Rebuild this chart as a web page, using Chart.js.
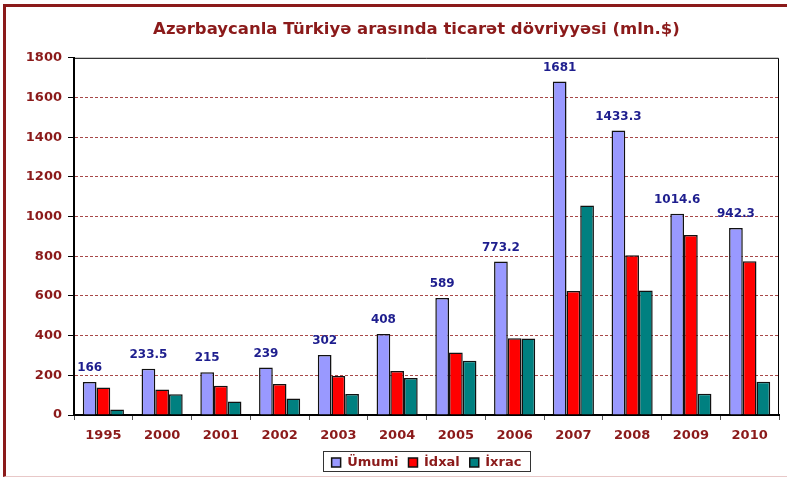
<!DOCTYPE html>
<html>
<head>
<meta charset="utf-8">
<script src="https://cdn.jsdelivr.net/npm/chart.js@4/dist/chart.umd.min.js"></script>
<style>
  html, body { margin: 0; padding: 0; background: #fff; }
  #wrap { position: relative; width: 787px; height: 480px; overflow: hidden; }
  #frame { position: absolute; left: 3px; top: 4px; width: 790px; height: 473px;
           border-left: 3px solid #8B1A1A; border-top: 3px solid #8B1A1A;
           border-bottom: 1px solid #E8C8C8; box-sizing: border-box; }
  canvas { position: absolute; left: 0; top: 0; }
</style>
</head>
<body>
<div id="wrap">
  <div id="frame"></div>
  <canvas id="c" width="787" height="480"></canvas>
</div>
<script>
const years = ['1995','2000','2001','2002','2003','2004','2005','2006','2007','2008','2009','2010'];
const umumi = [166, 233.5, 215, 239, 302, 408, 589, 773.2, 1681, 1433.3, 1014.6, 942.3];
const idxal = [138, 128, 147, 156, 196, 222, 315, 387, 625, 805, 907, 775];
const ixrac = [28, 105, 68, 83, 106, 186, 274, 386, 1056, 628, 107, 167];
const seriesNames = ['Ümumi', 'İdxal', 'İxrac'];
const yTicks = [0, 200, 400, 600, 800, 1000, 1200, 1400, 1600, 1800];

const DARKRED = '#8B1A1A';
const FONT = '"DejaVu Sans", Arial, sans-serif';
const LEGEND_SHIFT = 32;
const TITLE_SHIFT = 22;

const framePlugin = {
  id: 'framePlugin',
  afterLayout(chart) {
    const l = chart.legend;
    l.left += LEGEND_SHIFT;
    l.right += LEGEND_SHIFT;
    (l.legendHitBoxes || []).forEach(h => { h.left += LEGEND_SHIFT; h.top -= 1; });
    l.top -= 1; l.bottom -= 1;
    const t = chart.titleBlock;
    if (t) { t.left += TITLE_SHIFT; t.right += TITLE_SHIFT; }
  },
  afterDraw(chart) {
    const ctx = chart.ctx, a = chart.chartArea;
    ctx.save();
    ctx.strokeStyle = '#000';
    ctx.lineWidth = 1;
    ctx.beginPath();
    ctx.moveTo(a.left, a.top + 0.5);
    ctx.lineTo(a.right - 0.5, a.top + 0.5);
    ctx.lineTo(a.right - 0.5, a.bottom);
    ctx.stroke();
    // legend box around the items
    const hb = chart.legend.legendHitBoxes || [];
    if (hb.length) {
      const x0 = Math.min(...hb.map(h => h.left)) - 9;
      const x1 = Math.max(...hb.map(h => h.left + h.width)) + 8;
      const y0 = Math.min(...hb.map(h => h.top)) - 4;
      const y1 = Math.max(...hb.map(h => h.top + h.height)) + 3;
      ctx.strokeStyle = '#333';
      ctx.strokeRect(Math.round(x0) + 0.5, Math.round(y0) + 0.5, Math.round(x1 - x0), Math.round(y1 - y0));
    }
    ctx.restore();
  },
  afterDatasetsDraw(chart) {
    const ctx = chart.ctx;
    const meta = chart.getDatasetMeta(0);
    ctx.save();
    ctx.font = 'bold 12px ' + FONT;
    ctx.fillStyle = '#1E1E8E';
    ctx.textAlign = 'center';
    ctx.textBaseline = 'bottom';
    meta.data.forEach((bar, i) => {
      ctx.fillText(String(umumi[i]), bar.x, bar.y - 8);
    });
    ctx.restore();
  }
};

new Chart(document.getElementById('c'), {
  type: 'bar',
  data: {
    labels: years,
    datasets: [
      { label: seriesNames[0], data: umumi, backgroundColor: '#9999FF' },
      { label: seriesNames[1], data: idxal, backgroundColor: '#FF0000' },
      { label: seriesNames[2], data: ixrac, backgroundColor: '#008080' }
    ]
  },
  options: {
    responsive: false,
    animation: false,
    devicePixelRatio: 1,
    layout: { padding: { left: 10, right: 8, top: 6, bottom: 0 } },
    datasets: {
      bar: { borderColor: '#111', borderWidth: 1.5, borderSkipped: 'bottom',
             categoryPercentage: 0.7, barPercentage: 1.0 }
    },
    plugins: {
      title: {
        display: true,
        text: 'Azərbaycanla Türkiyə arasında ticarət dövriyyəsi (mln.$)',
        color: DARKRED,
        font: { family: FONT, size: 16.5, weight: 'bold', lineHeight: 1.2 },
        padding: { top: 14, bottom: 18 }
      },
      legend: {
        position: 'bottom',
        labels: {
          color: DARKRED,
          font: { family: FONT, size: 13, weight: 'bold' },
          boxWidth: 9, boxHeight: 9, padding: 10,
          generateLabels(chart) {
            return chart.data.datasets.map((d, i) => ({
              text: d.label, fillStyle: d.backgroundColor, strokeStyle: '#111',
              lineWidth: 1.5, datasetIndex: i, hidden: false, fontColor: DARKRED
            }));
          }
        }
      },
      tooltip: { enabled: false }
    },
    scales: {
      x: {
        afterFit(scale) { scale.height = 32; },
        grid: { display: true, drawOnChartArea: false, offset: true, tickLength: 5, tickColor: '#555' },
        border: { display: true, color: '#000', width: 2 },
        ticks: { color: DARKRED, font: { family: FONT, size: 13, weight: 'bold' }, padding: 8 }
      },
      y: {
        min: 0, max: 1800,
        afterBuildTicks(scale) { scale.ticks = yTicks.map(v => ({ value: v })); },
        afterFit(scale) { scale.width = 64; },
        grid: {
          color: ctx => (ctx.tick && (ctx.tick.value === 0 || ctx.tick.value === 1800)) ? 'rgba(0,0,0,0)' : '#A84848',
          lineWidth: 1, tickLength: 6, tickColor: '#000', tickBorderDash: [0, 0]
        },
        border: { display: true, color: '#000', width: 2, dash: [3, 2] },
        ticks: { color: DARKRED, font: { family: FONT, size: 13, weight: 'bold' }, padding: 6,
                 callback: v => String(v) }
      }
    }
  },
  plugins: [framePlugin]
});
</script>
</body>
</html>
